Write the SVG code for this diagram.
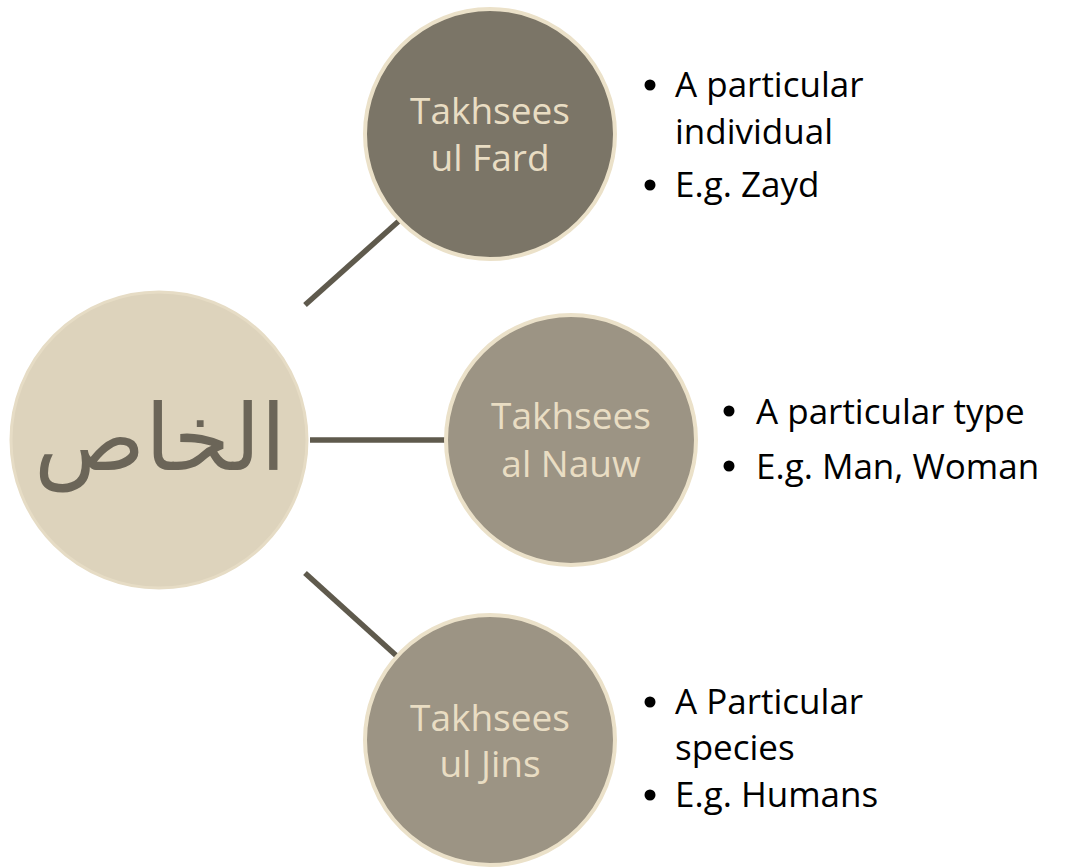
<svg xmlns="http://www.w3.org/2000/svg" width="1067" height="867" viewBox="0 0 1067 867">
<style>
.conn{stroke:#5f5a4d;stroke-width:5.5;stroke-linecap:butt;fill:none}
.ring{stroke:#ebe1c9;stroke-width:4}
.dark{fill:#7b7567}
.mid{fill:#9c9484}
.ctext{font-family:"Open Sans","Liberation Sans",sans-serif;font-size:37px;fill:#e9ddc3;text-anchor:middle}
.btext{font-family:"Open Sans","Liberation Sans",sans-serif;font-size:35px;font-weight:500;fill:#000}
.bullet{fill:#000}
</style>
<rect width="1067" height="867" fill="#ffffff"/>
<g id="connectors">
<line class="conn" x1="305" y1="305" x2="400" y2="220"/>
<line class="conn" x1="310" y1="440" x2="448" y2="440"/>
<line class="conn" x1="305" y1="573" x2="400" y2="659"/>
</g>
<g id="node-center">
<circle cx="159" cy="440" r="148" fill="#ddd3bc" stroke="#e6dcc5" stroke-width="3"/>
<text x="160" y="470" font-family="'DejaVu Sans',sans-serif" font-size="92" fill="#6b6558" text-anchor="middle">الخاص</text>
</g>
<g id="node-fard">
<circle class="dark ring" cx="490" cy="134" r="125"/>
<text class="ctext" x="490" y="124">Takhsees</text>
<text class="ctext" x="490" y="171">ul Fard</text>
</g>
<g id="node-nauw">
<circle class="mid ring" cx="571" cy="440" r="125"/>
<text class="ctext" x="571" y="429">Takhsees</text>
<text class="ctext" x="571" y="477">al Nauw</text>
</g>
<g id="node-jins">
<circle class="mid ring" cx="490" cy="740" r="125"/>
<text class="ctext" x="490" y="731">Takhsees</text>
<text class="ctext" x="490" y="777">ul Jins</text>
</g>
<g id="text-fard">
<circle class="bullet" cx="650" cy="85" r="5.5"/>
<text class="btext" x="675" y="97">A particular</text>
<text class="btext" x="675" y="144">individual</text>
<circle class="bullet" cx="650" cy="185" r="5.5"/>
<text class="btext" x="675" y="197">E.g. Zayd</text>
</g>
<g id="text-nauw">
<circle class="bullet" cx="729" cy="411" r="5.5"/>
<text class="btext" x="756" y="424">A particular type</text>
<circle class="bullet" cx="729" cy="466" r="5.5"/>
<text class="btext" x="756" y="479">E.g. Man, Woman</text>
</g>
<g id="text-jins">
<circle class="bullet" cx="650" cy="702" r="5.5"/>
<text class="btext" x="675" y="714">A Particular</text>
<text class="btext" x="675" y="760">species</text>
<circle class="bullet" cx="650" cy="795" r="5.5"/>
<text class="btext" x="675" y="807">E.g. Humans</text>
</g>
</svg>
